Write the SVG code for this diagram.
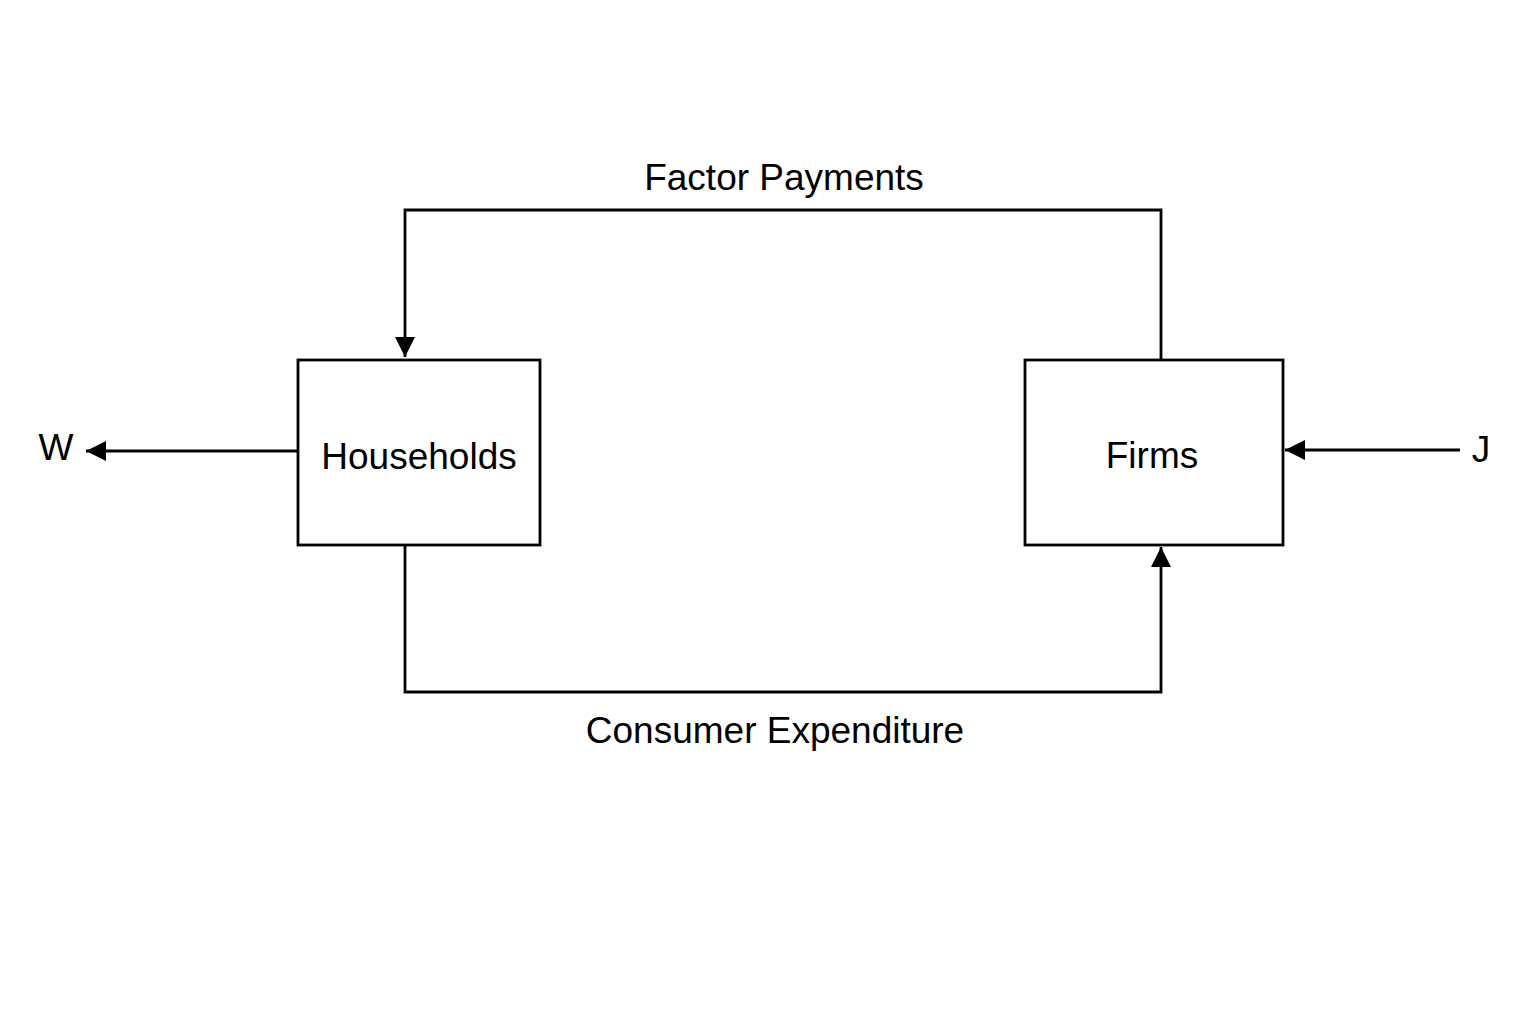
<svg xmlns="http://www.w3.org/2000/svg" width="1536" height="1024" viewBox="0 0 1536 1024">
<defs>
<marker id="arr" viewBox="0 0 20 20" refX="20" refY="10" markerWidth="20" markerHeight="20" markerUnits="userSpaceOnUse" orient="auto">
<path d="M0,0 L20,10 L0,20 Z" fill="#000"/>
</marker>
</defs>
<style>
.box{fill:#fff;stroke:#000;stroke-width:2.8}
.ln{fill:none;stroke:#000;stroke-width:2.8}
text{font-family:"Liberation Sans",Arial,sans-serif;font-size:37px;fill:#000}
</style>
<rect width="1536" height="1024" fill="#fff"/>
<g id="connectors">
<path class="ln" d="M1161,360 V210 H405 V357" marker-end="url(#arr)"/>
<path class="ln" d="M405,545 V692 H1161 V547" marker-end="url(#arr)"/>
<path class="ln" d="M298,451 H86" marker-end="url(#arr)"/>
<path class="ln" d="M1460,450 H1285" marker-end="url(#arr)"/>
</g>
<g id="households">
<rect class="box" x="298" y="360" width="242" height="185"/>
<text x="419" y="469" text-anchor="middle">Households</text>
</g>
<g id="firms">
<rect class="box" x="1025" y="360" width="258" height="185"/>
<text x="1152" y="468" text-anchor="middle">Firms</text>
</g>
<g id="labels">
<text x="784" y="190" text-anchor="middle">Factor Payments</text>
<text x="775" y="743" text-anchor="middle">Consumer Expenditure</text>
<text x="56" y="460" text-anchor="middle">W</text>
<text x="1481" y="462" text-anchor="middle">J</text>
</g>
</svg>
